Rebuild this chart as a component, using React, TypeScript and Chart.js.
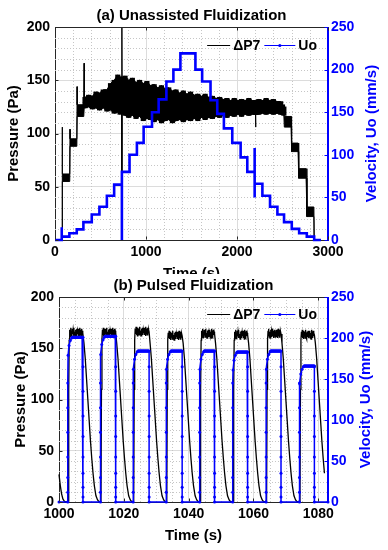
import React, { useEffect, useRef } from 'react';
import { Chart, registerables } from 'chart.js';

Chart.register(...registerables);

const FONT = '"Liberation Sans", Arial, Helvetica, sans-serif';
const BLUE = '#0000ff';
const AXIS = '#262626';
const GRID = '#dcdcdc';

// ---------- (a) Unassisted Fluidization ----------
// Uo staircase: time (s) at which each level starts, level (mm/s)
const uoStepTime = [0, 74, 74, 74, 158, 239, 312, 404, 488, 570, 650, 735, 735, 819, 900, 974, 1066, 1139, 1224, 1301, 1378, 1543, 1617, 1709, 1783, 1856, 1948, 2040, 2113, 2194, 2194, 2194, 2279, 2363, 2444, 2517, 2602, 2683, 2767, 2848, 2922];
const uoStepVal = [0, 0, 15, 4, 8, 12.5, 21, 30, 39, 52, 65, 0, 80, 100, 114, 133, 150, 165, 186, 200, 219, 200, 186, 164, 148, 131, 114, 97, 80, 108, 50, 66, 52, 39, 30, 21, 13, 8, 4, 0, 0];

// ΔP7 noisy signal: time (s), upper and lower envelope of the trace (Pa)
const dpTime = [0, 80, 80, 81, 162, 165, 166, 240, 243, 244, 316, 320, 322,
  330, 370, 410, 450, 490, 530, 570, 610, 650, 690, 715, 733, 735, 737, 770, 810, 850, 890, 930, 970, 1010, 1050,
  1090, 1130, 1170, 1210, 1250, 1290, 1330, 1370, 1410, 1450, 1490, 1530, 1570, 1610, 1650, 1690, 1730, 1770, 1810,
  1850, 1890, 1930, 1970, 2010, 2050, 2090, 2130, 2170, 2203, 2205, 2207, 2240, 2280, 2320, 2360, 2400, 2440, 2480,
  2500, 2515, 2520, 2595, 2600, 2672, 2678, 2760, 2768, 2845, 2848, 2922];
const dpHigh = [0, 0, 106, 62, 62, 104, 95, 95, 144, 127, 127, 166, 133,
  134, 136, 135, 139, 138, 141, 141, 147, 150, 155, 153, 153, 205, 152, 154, 150, 152, 148, 150, 147, 149, 145,
  146, 143, 145, 142, 143, 140, 141, 138, 140, 137, 139, 136, 137, 135, 137, 134, 135, 133, 134,
  132, 133, 131, 133, 131, 132, 131, 133, 131, 131, 131, 131, 132, 131, 133, 131, 132, 130, 130,
  127, 125, 116, 116, 91, 91, 67, 67, 31, 31, 0, 0];
const dpLow = [0, 0, 55, 55, 55, 88, 88, 88, 116, 116, 116, 124, 124,
  124, 125, 123, 124, 122, 124, 121, 122, 119, 120, 118, 120, 0, 119, 117, 115, 117, 114, 116, 112, 114, 113,
  111, 113, 110, 112, 113, 110, 112, 113, 111, 113, 112, 114, 112, 115, 113, 115, 114, 116, 115,
  117, 115, 117, 116, 118, 116, 118, 117, 118, 118, 106, 118, 118, 119, 118, 119, 118, 119, 118,
  118, 117, 106, 106, 83, 83, 58, 58, 22, 22, 0, 0];
// the dense fluidized band runs between these times
const bandStart = 330;
const bandEnd = 2515;

// ---------- (b) Pulsed Fluidization ----------
const pulseRise = [1002.7, 1012.8, 1022.9, 1033.1, 1043.4, 1053.6, 1063.9, 1074.2];
const pulseFall = [1007.4, 1017.5, 1027.8, 1038.0, 1048.0, 1058.2, 1068.5, 1078.8];
const dpPlateau = [165, 165, 166, 162, 164, 163, 164, 163];
const uoPlateau = [201, 202, 184, 184, 184, 183, 184, 166];
const dpRipple = [3, -2, 5, -3, 2, -4, 4, -1, 3, -3, 5, -2, 1, -4, 3, -2, 4, -3, 2, -1, 4, -3, 2, -4, 5, -2, 3, -3, 4, -1, 2, 0];
const dpRiseDt = [0.15, 0.3, 0.45];
const dpRiseP = [1, 110, 158];
const dpDecayDt = [0.3, 0.7, 1.1, 1.5, 1.9, 2.3, 2.7, 3.1, 3.5, 4.0, 4.5, 5.0];
const dpDecayP = [155, 140, 120, 100, 80, 60, 43, 28, 16, 6, 2, 0];
const dpHeadT = [1000, 1000.4, 1000.8, 1001.2, 1001.6, 1002.1];
const dpHeadP = [27, 16, 8, 3, 1, 0];
const dpLastT = 1081.9;
const uoRiseDots = [0, 12, 30, 55, 85, 115, 145];
const uoApproachDt = [0.1, 0.4, 0.8, 1.2];
const uoApproachGap = [22, 10, 4, 1];
const uoFallDots = [165, 135, 105, 80, 55, 35, 18, 6, 0];
const xMinB = 1000;
const xMaxB = 1083;

type P = { x: number; y: number };

function buildPulsed() {
  const dp: P[] = dpHeadT.map((t, i) => ({ x: t, y: dpHeadP[i] }));
  const uo: P[] = [{ x: xMinB, y: 0 }];
  pulseRise.forEach((r, k) => {
    const f = pulseFall[k];
    dpRiseDt.forEach((dt, i) => dp.push({ x: r + dt, y: dpRiseP[i] }));
    const n = dpRipple.length;
    const t0 = r + 0.6;
    const span = f - t0;
    const rippleT = dpRipple.map((_, i) => t0 + (span * i) / (n - 1));
    dpRipple.forEach((d, i) => dp.push({ x: rippleT[i], y: dpPlateau[k] + d }));
    dpDecayDt.forEach((dt, i) => {
      if (f + dt <= dpLastT) dp.push({ x: f + dt, y: dpDecayP[i] });
    });
    uoRiseDots.forEach((v) => uo.push({ x: r, y: v }));
    uoApproachDt.forEach((dt, i) => uo.push({ x: r + dt, y: uoPlateau[k] - uoApproachGap[i] }));
    rippleT.forEach((t) => {
      if (t > r + 1.3 && t < f) uo.push({ x: t, y: uoPlateau[k] });
    });
    uo.push({ x: f, y: uoPlateau[k] });
    uoFallDots.filter((v) => v < uoPlateau[k]).forEach((v) => uo.push({ x: f, y: v }));
  });
  uo.push({ x: xMaxB, y: 0 });
  return { dp, uo };
}

const decorPlugin = {
  id: 'decor',
  beforeDatasetsDraw(chart: any, _a: any, o: any) {
    const { ctx, chartArea: a, scales } = chart;
    ctx.save();
    ctx.beginPath();
    ctx.rect(a.left, a.top, a.right - a.left, a.bottom - a.top);
    ctx.clip();
    ctx.strokeStyle = '#c6c6c6';
    ctx.lineWidth = 1;
    ctx.setLineDash([1, 2]);
    const drawMinor = (scale: any, step: number, major: number, vertical: boolean) => {
      const n = Math.round((scale.max - scale.min) / step);
      for (let i = 0; i <= n; i++) {
        const v = scale.min + i * step;
        if (Math.abs(v / major - Math.round(v / major)) < 1e-6) continue;
        const p = Math.round(scale.getPixelForValue(v)) + 0.5;
        ctx.beginPath();
        if (vertical) {
          ctx.moveTo(p, a.top);
          ctx.lineTo(p, a.bottom);
        } else {
          ctx.moveTo(a.left, p);
          ctx.lineTo(a.right, p);
        }
        ctx.stroke();
      }
    };
    drawMinor(scales.x, o.xMinor, o.xMajor, true);
    drawMinor(scales.y, o.yMinor, o.yMajor, false);
    ctx.restore();
    ctx.setLineDash([]);
  },
  afterDraw(chart: any, _a: any, o: any) {
    const { ctx, chartArea: a, scales } = chart;
    const tl = 3;
    ctx.save();
    ctx.setLineDash([]);
    ctx.lineWidth = 1;
    ctx.strokeStyle = AXIS;
    const top = Math.round(a.top) + 0.5;
    const bot = Math.round(a.bottom) - 0.5;
    const lft = Math.round(a.left) + 0.5;
    const rgt = Math.round(a.right) - 0.5;
    ctx.beginPath();
    ctx.moveTo(a.left, top);
    ctx.lineTo(a.right, top);
    scales.x.ticks.forEach((t: any) => {
      const p = Math.round(scales.x.getPixelForValue(t.value)) + 0.5;
      ctx.moveTo(p, bot);
      ctx.lineTo(p, bot - tl);
      ctx.moveTo(p, top);
      ctx.lineTo(p, top + tl);
    });
    scales.y.ticks.forEach((t: any) => {
      const p = Math.round(scales.y.getPixelForValue(t.value)) + 0.5;
      ctx.moveTo(lft, p);
      ctx.lineTo(lft + tl, p);
    });
    ctx.stroke();
    ctx.strokeStyle = BLUE;
    ctx.beginPath();
    ctx.moveTo(rgt, a.top);
    ctx.lineTo(rgt, a.bottom);
    scales.y1.ticks.forEach((t: any) => {
      const p = Math.round(scales.y1.getPixelForValue(t.value)) + 0.5;
      ctx.moveTo(rgt, p);
      ctx.lineTo(rgt - tl, p);
    });
    ctx.stroke();

    // legend
    const ly = Math.round(a.top + o.legendDy) + 0.5;
    ctx.font = `bold 14px ${FONT}`;
    ctx.textBaseline = 'middle';
    ctx.textAlign = 'left';
    ctx.fillStyle = '#000';
    const uoW = ctx.measureText('Uo').width;
    const dpW = ctx.measureText('ΔP7').width;
    const uoX = a.right - 11 - uoW;
    const b2 = uoX - 3;
    const b1 = b2 - 31;
    const dpX = b1 - 4 - dpW;
    const k2 = dpX - 3;
    const k1 = k2 - 23;
    ctx.strokeStyle = '#000';
    ctx.beginPath();
    ctx.moveTo(k1, ly);
    ctx.lineTo(k2, ly);
    ctx.stroke();
    ctx.fillText('ΔP7', dpX, ly + 0.5);
    ctx.strokeStyle = BLUE;
    ctx.beginPath();
    ctx.moveTo(b1, ly);
    ctx.lineTo(b2, ly);
    ctx.stroke();
    ctx.fillStyle = BLUE;
    ctx.beginPath();
    ctx.arc((b1 + b2) / 2, ly, 1.6, 0, Math.PI * 2);
    ctx.fill();
    ctx.fillStyle = '#000';
    ctx.fillText('Uo', uoX, ly + 0.5);

    // right axis title (reads bottom-to-top, like MATLAB)
    ctx.fillStyle = BLUE;
    ctx.font = `bold 15px ${FONT}`;
    ctx.textAlign = 'center';
    ctx.translate(o.rightTitleX, (a.top + a.bottom) / 2);
    ctx.rotate(-Math.PI / 2);
    ctx.fillText('Velocity, Uo (mm/s)', 0, 0);
    ctx.restore();
  },
};

function makeOptions(p: any): any {
  const tickFont = { family: FONT, size: 14, weight: 'bold' };
  const titleFont = { family: FONT, size: 15, weight: 'bold' };
  const num = (v: any) => String(v);
  return {
    responsive: false,
    animation: false,
    devicePixelRatio: 1,
    events: [],
    layout: { padding: 0 },
    plugins: {
      legend: { display: false },
      tooltip: { enabled: false },
      title: {
        display: true,
        text: p.title,
        font: titleFont,
        color: '#000',
        padding: { top: p.titleTop, bottom: p.titleBottom },
        fullSize: false,
      },
      decor: p.decor,
    },
    scales: {
      x: {
        type: 'linear',
        min: p.xMin,
        max: p.xMax,
        offset: false,
        ticks: { stepSize: p.xStep, includeBounds: false, autoSkip: false, maxRotation: 0, padding: 4, color: '#000', font: tickFont, callback: num },
        grid: { color: GRID, drawTicks: false, offset: false },
        border: { color: AXIS },
        title: { display: true, text: 'Time (s)', font: titleFont, color: '#000', padding: { top: 0, bottom: p.xTitlePad } },
        afterFit: (s: any) => { s.height = p.xH; },
      },
      y: {
        type: 'linear',
        position: 'left',
        min: 0,
        max: 200,
        ticks: { stepSize: 50, padding: 5, color: '#000', font: tickFont, callback: num },
        grid: { color: GRID, drawTicks: false },
        border: { color: AXIS },
        title: { display: true, text: 'Pressure (Pa)', font: titleFont, color: '#000', padding: { top: p.leftTitlePad, bottom: 0 } },
        afterFit: (s: any) => { s.width = p.leftW; },
      },
      y1: {
        type: 'linear',
        position: 'right',
        min: 0,
        max: 250,
        ticks: { stepSize: 50, padding: 3, color: BLUE, font: tickFont, callback: num },
        grid: { display: false, drawTicks: false },
        border: { color: BLUE },
        afterFit: (s: any) => { s.width = p.rightW; },
      },
    },
  };
}

function configA(): any {
  const band = dpTime
    .map((t, i) => ({ x: t, y: [dpLow[i], dpHigh[i]] }))
    .filter((d) => d.x >= bandStart && d.x <= bandEnd && d.y[0] >= 110);
  return {
    type: 'line',
    data: {
      datasets: [
        {
          label: 'Uo',
          data: uoStepTime.map((t, i) => ({ x: t, y: uoStepVal[i] })),
          yAxisID: 'y1',
          borderColor: BLUE,
          borderWidth: 2.6,
          pointRadius: 0,
          stepped: true,
          fill: false,
          clip: 3,
          order: 0,
        },
        {
          label: 'ΔP7',
          data: dpTime.map((t, i) => ({ x: t, y: dpHigh[i] })),
          yAxisID: 'y',
          borderColor: '#000',
          borderWidth: 1,
          pointRadius: 0,
          fill: { target: '+1', above: '#000', below: '#000' },
          backgroundColor: '#000',
          order: 1,
        },
        {
          label: 'ΔP7 low',
          data: dpTime.map((t, i) => ({ x: t, y: dpLow[i] })),
          yAxisID: 'y',
          borderColor: '#000',
          borderWidth: 1,
          pointRadius: 0,
          fill: false,
          order: 2,
        },
        {
          type: 'bar',
          label: 'ΔP7 band',
          data: band,
          yAxisID: 'y',
          xAxisID: 'x',
          backgroundColor: '#000',
          borderWidth: 0,
          barThickness: 4.5,
          grouped: false,
          order: 3,
        },
      ],
    },
    options: makeOptions({
      title: '(a) Unassisted Fluidization',
      titleTop: 7,
      titleBottom: 2,
      xMin: 0,
      xMax: 3000,
      xStep: 1000,
      xH: 43,
      xTitlePad: 0,
      leftW: 55,
      rightW: 60,
      leftTitlePad: 5,
      decor: { xMinor: 200, xMajor: 1000, yMinor: 10, yMajor: 50, rightTitleX: 372, legendDy: 18 },
    }),
    plugins: [decorPlugin],
  };
}

function configB(): any {
  const { dp, uo } = buildPulsed();
  return {
    type: 'line',
    data: {
      datasets: [
        {
          label: 'Uo',
          data: uo,
          yAxisID: 'y1',
          borderColor: BLUE,
          borderWidth: 1.5,
          pointRadius: 1.5,
          pointBorderWidth: 0,
          pointBackgroundColor: BLUE,
          fill: false,
          clip: 3,
          order: 0,
        },
        {
          label: 'ΔP7',
          data: dp,
          yAxisID: 'y',
          borderColor: '#000',
          borderWidth: 1.3,
          pointRadius: 0,
          fill: false,
          clip: 2,
          order: 1,
        },
      ],
    },
    options: makeOptions({
      title: '(b) Pulsed Fluidization',
      titleTop: 3,
      titleBottom: 2,
      xMin: xMinB,
      xMax: xMaxB,
      xStep: 20,
      xH: 48,
      xTitlePad: 5,
      leftW: 59,
      rightW: 60,
      leftTitlePad: 12,
      decor: { xMinor: 5, xMajor: 20, yMinor: 10, yMajor: 50, rightTitleX: 366, legendDy: 17 },
    }),
    plugins: [decorPlugin],
  };
}

export default function App() {
  const refA = useRef<HTMLCanvasElement>(null);
  const refB = useRef<HTMLCanvasElement>(null);
  useEffect(() => {
    const a = new Chart(refA.current as HTMLCanvasElement, configA());
    const b = new Chart(refB.current as HTMLCanvasElement, configB());
    return () => {
      a.destroy();
      b.destroy();
    };
  }, []);
  return (
    <div style={{ position: 'absolute', left: 0, top: 0, width: 388, height: 550, background: '#fff', overflow: 'hidden' }}>
      <canvas ref={refA} width={388} height={283} style={{ position: 'absolute', left: 0, top: 0, width: 388, height: 283 }} />
      <canvas ref={refB} width={388} height={276} style={{ position: 'absolute', left: 0, top: 274, width: 388, height: 276, background: '#fff' }} />
    </div>
  );
}
